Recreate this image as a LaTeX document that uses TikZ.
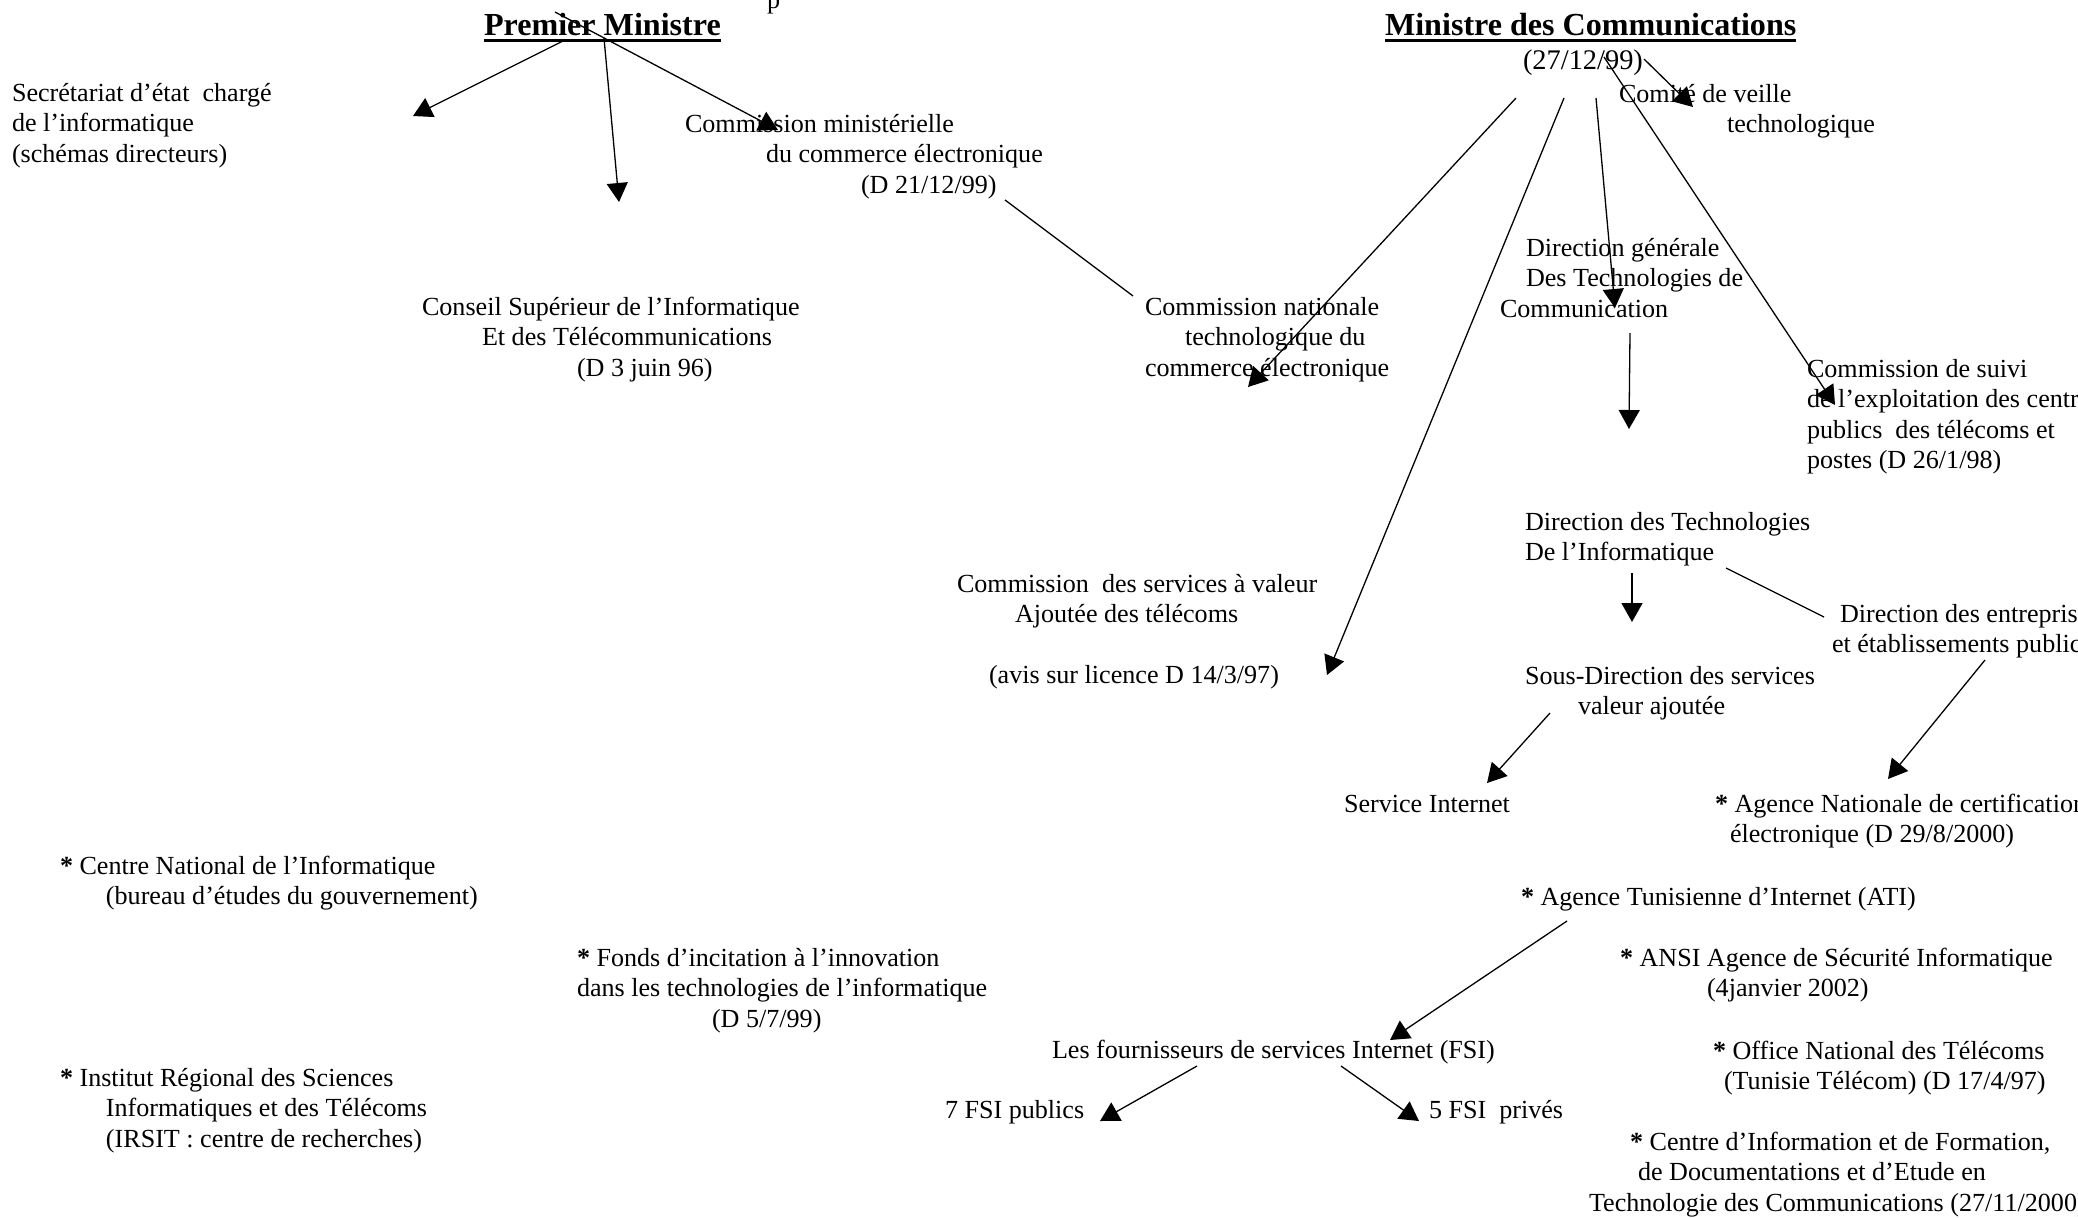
\documentclass[tikz,border=0pt]{standalone}
\usepackage{fontspec}
\setmainfont{Liberation Serif}
\usetikzlibrary{arrows.meta}
\newcommand\bodyfnt{\fontsize{13.05pt}{15.33pt}\selectfont}
\newcommand\datefnt{\fontsize{14.2pt}{16.5pt}\selectfont}
\newcommand\headfnt{\fontsize{16.05pt}{18.5pt}\selectfont\bfseries}
\newcommand\ind[1]{\hspace*{#1pt}}
\newcommand\bast{\textbf{*}}
\begin{document}
\begin{tikzpicture}[x=0.5pt,y=-0.5pt,
  txt/.style={anchor=base west, inner sep=0pt, outer sep=0pt, font=\bodyfnt},
  head/.style={anchor=base west, inner sep=0pt, outer sep=0pt, font=\headfnt},
  arr/.style={-{Triangle[length=9.5pt,width=10.5pt]}, line width=0.65pt},
  ln/.style={line width=0.65pt},
  uline/.style={line width=1.5pt}]
\useasboundingbox (0,0) rectangle (2078,1217);
\fill[white] (0,0) rectangle (2078,1217);

% headings
\node[txt] (pfrag) at (767,8) {p};
\node[head] (pm) at (484,35) {Premier Ministre};
\node[head] (mc) at (1385,35) {Ministre des Communications};
\draw[uline] ([yshift=-2.9pt]pm.base west) -- ([yshift=-2.9pt]pm.base east);
\draw[uline] ([yshift=-2.9pt]mc.base west) -- ([yshift=-2.9pt]mc.base east);

% text blocks
\node[txt] (sec) at (12,101) {\begin{tabular}[t]{@{}l@{}}Secrétariat d’état\ \ chargé\\ de l’informatique\\ (schémas directeurs)\end{tabular}};
\node[txt] (cmin) at (685,132) {\begin{tabular}[t]{@{}l@{}}Commission ministérielle\\ \ind{40.5}du commerce électronique\\ \ind{88}(D 21/12/99)\end{tabular}};
\node[txt] (conseil) at (422,315) {\begin{tabular}[t]{@{}l@{}}Conseil Supérieur de l’Informatique\\ \ind{30}Et des Télécommunications\\ \ind{77.5}(D 3 juin 96)\end{tabular}};
\node[txt] (cnat) at (1145,315) {\begin{tabular}[t]{@{}l@{}}Commission nationale\\ \ind{20}technologique du\\ commerce électronique\end{tabular}};
\node[txt, font=\datefnt] (mdate) at (1523,69) {(27/12/99)};
\node[txt] (comite) at (1619,102) {\begin{tabular}[t]{@{}l@{}}Comité de veille\\ \ind{54}technologique\end{tabular}};
\node[txt] (dgen) at (1500,256) {\begin{tabular}[t]{@{}l@{}}\ind{13}Direction générale\\ \ind{13}Des Technologies de\\ Communication\end{tabular}};
\node[txt] (csuivi) at (1807,377) {\begin{tabular}[t]{@{}l@{}}Commission de suivi\\ de l’exploitation des centres\\ publics\ \ des télécoms et\\ postes (D 26/1/98)\end{tabular}};
\node[txt] (dti) at (1525,530) {\begin{tabular}[t]{@{}l@{}}Direction des Technologies\\ De l’Informatique\end{tabular}};
\node[txt] (dent) at (1832,622) {\begin{tabular}[t]{@{}l@{}}\ind{4}Direction des entreprises\\ et établissements publics\end{tabular}};
\node[txt] (cserv) at (957,592) {\begin{tabular}[t]{@{}l@{}}Commission\ \ des services à valeur\\ \ind{29}Ajoutée des télécoms\\ \mbox{}\\ \ind{16}(avis sur licence D 14/3/97)\end{tabular}};
\node[txt] (sdir) at (1525,684) {\begin{tabular}[t]{@{}l@{}}Sous-Direction des services\\ \ind{26.5}valeur ajoutée\end{tabular}};
\node[txt] (servint) at (1344,812) {Service Internet};
\node[txt] (anc) at (1715,812) {\begin{tabular}[t]{@{}l@{}}\bast{} Agence Nationale de certification\\ \ind{7.5}électronique (D 29/8/2000)\end{tabular}};
\node[txt] (cni) at (60,874) {\begin{tabular}[t]{@{}l@{}}\bast{} Centre National de l’Informatique\\ \ind{23}(bureau d’études du gouvernement)\end{tabular}};
\node[txt] (ati) at (1521,905) {\bast{} Agence Tunisienne d’Internet (ATI)};
\node[txt] (fonds) at (577,966) {\begin{tabular}[t]{@{}l@{}}\bast{} Fonds d’incitation à l’innovation\\ dans les technologies de l’informatique\\ \ind{67.5}(D 5/7/99)\end{tabular}};
\node[txt] (ansi) at (1620,966) {\begin{tabular}[t]{@{}l@{}}\bast{} ANSI Agence de Sécurité Informatique\\ \ind{43.5}(4janvier 2002)\end{tabular}};
\node[txt] (ont) at (1713,1059) {\begin{tabular}[t]{@{}l@{}}\bast{} Office National des Télécoms\\ \ind{5.5}(Tunisie Télécom) (D 17/4/97)\end{tabular}};
\node[txt] (fsi) at (1052,1058) {Les fournisseurs de services Internet (FSI)};
\node[txt] (irsit) at (60,1086) {\begin{tabular}[t]{@{}l@{}}\bast{} Institut Régional des Sciences\\ \ind{23}Informatiques et des Télécoms\\ \ind{23}(IRSIT : centre de recherches)\end{tabular}};
\node[txt] (fsipub) at (945,1118) {7 FSI publics};
\node[txt] (fsipriv) at (1429,1118) {5 FSI\ \ privés};
\node[txt] (cif) at (1589,1150) {\begin{tabular}[t]{@{}l@{}}\ind{20.5}\bast{} Centre d’Information et de Formation,\\ \ind{24.5}de Documentations et d’Etude en\\ Technologie des Communications (27/11/2000)\end{tabular}};

% connector end points
\coordinate (a1s) at (555,12);   \coordinate (a1e) at (778,130);
\coordinate (a2s) at (565,40);   \coordinate (a2e) at (413,116);
\coordinate (a3s) at (604,38);   \coordinate (a3e) at (619,202);
\coordinate (a4s) at (1644,59);  \coordinate (a4e) at (1693,107);
\coordinate (a5s) at (1604,57);  \coordinate (a5e) at (1835,405);
\coordinate (a6s) at (1516,98);  \coordinate (a6e) at (1248,387);
\coordinate (a7s) at (1564,98);  \coordinate (a7e) at (1327,675);
\coordinate (a8s) at (1596,98);  \coordinate (a8e) at (1615,308);
\coordinate (a9s) at (1630,333); \coordinate (a9e) at (1629,429);
\coordinate (a10s) at (1632,573); \coordinate (a10e) at (1632,622);
\coordinate (l2s) at (1726,568); \coordinate (l2e) at (1824,617);
\coordinate (a12s) at (1985,660); \coordinate (a12e) at (1888,779);
\coordinate (a13s) at (1550,713); \coordinate (a13e) at (1487,783);
\coordinate (a14s) at (1567,921); \coordinate (a14e) at (1390,1040);
\coordinate (a15s) at (1197,1066); \coordinate (a15e) at (1100,1121);
\coordinate (a16s) at (1341,1066); \coordinate (a16e) at (1419,1121);
\coordinate (l1s) at (1005,200); \coordinate (l1e) at (1133,296);

% connectors
\draw[arr] (a1s) -- (a1e);
\draw[arr] (a2s) -- (a2e);
\draw[arr] (a3s) -- (a3e);
\draw[arr] (a4s) -- (a4e);
\draw[arr] (a5s) -- (a5e);
\draw[arr] (a6s) -- (a6e);
\draw[arr] (a7s) -- (a7e);
\draw[arr] (a8s) -- (a8e);
\draw[arr] (a9s) -- (a9e);
\draw[arr] (a10s) -- (a10e);
\draw[ln] (l2s) -- (l2e);
\draw[arr] (a12s) -- (a12e);
\draw[arr] (a13s) -- (a13e);
\draw[arr] (a14s) -- (a14e);
\draw[arr] (a15s) -- (a15e);
\draw[arr] (a16s) -- (a16e);
\draw[ln] (l1s) -- (l1e);
\end{tikzpicture}
\end{document}
